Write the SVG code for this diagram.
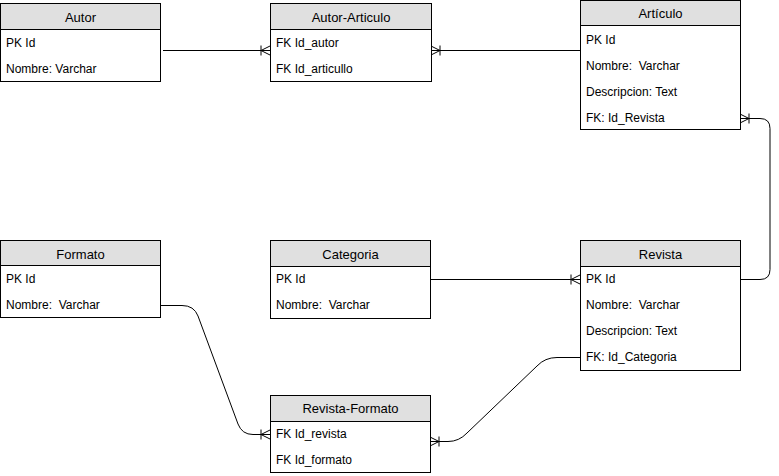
<svg xmlns="http://www.w3.org/2000/svg" width="779" height="476" viewBox="0 0 779 476" xml:space="preserve">
<style>
.box{fill:#ffffff;stroke:#000000;stroke-width:1}
.hdr{fill:#e0e0e0;stroke:#000000;stroke-width:1}
.t{font-family:"Liberation Sans",Arial,sans-serif;font-size:13px;fill:#000;text-anchor:middle}
.r{font-family:"Liberation Sans",Arial,sans-serif;font-size:12px;fill:#000;white-space:pre}
.c{fill:none;stroke:#000;stroke-width:1}
</style>
<defs>
<marker id="crow" viewBox="0 0 10 12" refX="10" refY="6" markerWidth="10" markerHeight="12" markerUnits="userSpaceOnUse" orient="auto">
<path d="M1,1 L1,11 M1,6 L10,6 M1,6 L10,1.5 M1,6 L10,10.5" fill="none" stroke="#000" stroke-width="1"/>
</marker>
</defs>
<rect width="779" height="476" fill="#ffffff"/>
<g id="connectors">
<path class="c" d="M163,50.5 L270,50.5" marker-end="url(#crow)"/>
<path class="c" d="M580,50.5 L431,50.5" marker-end="url(#crow)"/>
<path class="c" d="M740,279.5 L760,279.5 Q770,279.5 770,269.5 L770,128.5 Q770,118.5 760,118.5 L740,118.5" marker-end="url(#crow)"/>
<path class="c" d="M430,279.5 L580,279.5" marker-end="url(#crow)"/>
<path class="c" d="M160,305.5 L182,305.5 Q194,305.5 198,316 L238,424 Q242,434.5 253,434.5 L270,434.5" marker-end="url(#crow)"/>
<path class="c" d="M580,357.5 L557,357.5 Q545,357.5 537,366 L467,433 Q459,441.5 448,441.5 L430,441.5" marker-end="url(#crow)"/>
</g>
<g id="autor">
<rect class="box" x="0.5" y="3.5" width="160" height="78"/>
<rect class="hdr" x="0.5" y="3.5" width="160" height="26"/>
<text class="t" x="80.5" y="21.5">Autor</text>
<text class="r" x="6" y="47">PK Id</text>
<text class="r" x="6" y="73">Nombre: Varchar</text>
</g>
<g id="autor-articulo">
<rect class="box" x="270.5" y="3.5" width="161" height="78"/>
<rect class="hdr" x="270.5" y="3.5" width="161" height="26"/>
<text class="t" x="351" y="21.5">Autor-Articulo</text>
<text class="r" x="276" y="47">FK Id_autor</text>
<text class="r" x="276" y="73">FK Id_articullo</text>
</g>
<g id="articulo">
<rect class="box" x="580.5" y="0.5" width="160" height="129"/>
<rect class="hdr" x="580.5" y="0.5" width="160" height="25"/>
<text class="t" x="660.5" y="17.5">Artículo</text>
<text class="r" x="586" y="44">PK Id</text>
<text class="r" x="586" y="70">Nombre:  Varchar</text>
<text class="r" x="586" y="96">Descripcion: Text</text>
<text class="r" x="586" y="122">FK: Id_Revista</text>
</g>
<g id="formato">
<rect class="box" x="0.5" y="240.5" width="160" height="77"/>
<rect class="hdr" x="0.5" y="240.5" width="160" height="25"/>
<text class="t" x="80.5" y="258.5">Formato</text>
<text class="r" x="6" y="283">PK Id</text>
<text class="r" x="6" y="309">Nombre:  Varchar</text>
</g>
<g id="categoria">
<rect class="box" x="270.5" y="240.5" width="160" height="78"/>
<rect class="hdr" x="270.5" y="240.5" width="160" height="26"/>
<text class="t" x="350.5" y="258.5">Categoria</text>
<text class="r" x="276" y="283">PK Id</text>
<text class="r" x="276" y="309">Nombre:  Varchar</text>
</g>
<g id="revista">
<rect class="box" x="580.5" y="240.5" width="160" height="130"/>
<rect class="hdr" x="580.5" y="240.5" width="160" height="26"/>
<text class="t" x="660.5" y="258.5">Revista</text>
<text class="r" x="586" y="283">PK Id</text>
<text class="r" x="586" y="309">Nombre:  Varchar</text>
<text class="r" x="586" y="335">Descripcion: Text</text>
<text class="r" x="586" y="361">FK: Id_Categoria</text>
</g>
<g id="revista-formato">
<rect class="box" x="270.5" y="395.5" width="160" height="77"/>
<rect class="hdr" x="270.5" y="395.5" width="160" height="26"/>
<text class="t" x="350.5" y="413">Revista-Formato</text>
<text class="r" x="276" y="438">FK Id_revista</text>
<text class="r" x="276" y="464">FK Id_formato</text>
</g>
</svg>
